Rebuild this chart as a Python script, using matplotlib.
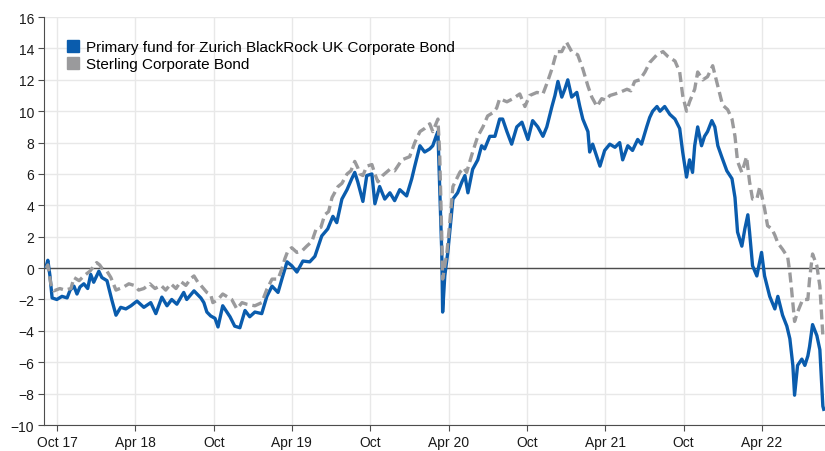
import matplotlib.pyplot as plt
import matplotlib.dates as mdates
from matplotlib.patches import Patch
import pandas as pd

plt.rcParams['font.family'] = ['Liberation Sans', 'DejaVu Sans']

# cumulative return (%)
fund_dates = [
    '2017-09-05', '2017-09-09', '2017-09-14', '2017-09-19', '2017-09-30', '2017-10-12', '2017-10-24', '2017-10-31',
    '2017-11-09', '2017-11-16', '2017-11-23', '2017-12-02', '2017-12-11', '2017-12-18', '2017-12-25', '2018-01-06',
    '2018-01-13', '2018-01-25', '2018-02-05', '2018-02-15', '2018-02-26', '2018-03-10', '2018-03-22', '2018-04-05',
    '2018-04-21', '2018-05-07', '2018-05-19', '2018-06-02', '2018-06-14', '2018-06-25', '2018-07-07', '2018-07-23',
    '2018-07-30', '2018-08-16', '2018-09-01', '2018-09-08', '2018-09-15', '2018-09-24', '2018-10-04', '2018-10-11',
    '2018-10-22', '2018-11-08', '2018-11-19', '2018-12-01', '2018-12-13', '2018-12-24', '2019-01-05', '2019-01-21',
    '2019-02-02', '2019-02-14', '2019-02-28', '2019-03-09', '2019-03-21', '2019-04-01', '2019-04-13', '2019-04-27',
    '2019-05-13', '2019-05-25', '2019-06-10', '2019-06-24', '2019-07-06', '2019-07-15', '2019-07-27', '2019-08-08',
    '2019-08-19', '2019-08-26', '2019-09-02', '2019-09-14', '2019-09-23', '2019-10-05', '2019-10-12', '2019-10-23',
    '2019-11-04', '2019-11-16', '2019-11-27', '2019-12-09', '2019-12-25', '2020-01-06', '2020-01-13', '2020-01-25',
    '2020-02-05', '2020-02-17', '2020-02-24', '2020-03-04', '2020-03-07', '2020-03-11', '2020-03-16', '2020-03-18',
    '2020-03-23', '2020-03-30', '2020-04-11', '2020-04-22', '2020-05-02', '2020-05-09', '2020-05-16', '2020-05-27',
    '2020-06-08', '2020-06-17', '2020-06-24', '2020-07-06', '2020-07-18', '2020-07-29', '2020-08-05', '2020-08-15',
    '2020-08-26', '2020-09-07', '2020-09-19', '2020-10-03', '2020-10-14', '2020-10-26', '2020-11-07', '2020-11-16',
    '2020-11-28', '2020-12-05', '2020-12-12', '2020-12-21', '2020-12-28', '2021-01-04', '2021-01-13', '2021-01-25',
    '2021-02-01', '2021-02-08', '2021-02-20', '2021-02-24', '2021-03-03', '2021-03-15', '2021-03-20', '2021-03-31',
    '2021-04-12', '2021-04-24', '2021-05-05', '2021-05-12', '2021-05-24', '2021-06-04', '2021-06-16', '2021-06-25',
    '2021-07-07', '2021-07-14', '2021-07-21', '2021-07-31', '2021-08-07', '2021-08-18', '2021-08-30', '2021-09-11',
    '2021-09-22', '2021-09-29', '2021-10-08', '2021-10-15', '2021-10-22', '2021-10-27', '2021-11-03', '2021-11-12',
    '2021-11-19', '2021-11-26', '2021-12-06', '2021-12-13', '2021-12-20', '2021-12-29', '2022-01-10', '2022-01-22',
    '2022-01-29', '2022-02-04', '2022-02-14', '2022-02-21', '2022-02-28', '2022-03-04', '2022-03-11', '2022-03-21',
    '2022-04-01', '2022-04-08', '2022-04-20', '2022-05-02', '2022-05-09', '2022-05-20', '2022-05-30', '2022-06-06',
    '2022-06-13', '2022-06-17', '2022-06-24', '2022-07-04', '2022-07-11', '2022-07-18', '2022-07-22', '2022-07-29',
    '2022-08-08', '2022-08-15', '2022-08-22', '2022-08-24',
]
fund_vals = [
    0.1, 0.5, -0.5, -1.9, -2.0, -1.8, -1.9, -1.4,
    -1.15, -1.65, -1.2, -1.0, -1.3, -0.4, -0.9, -0.2,
    -0.6, -0.8, -2.0, -3.0, -2.5, -2.6, -2.4, -2.1,
    -2.5, -2.2, -2.9, -1.85, -2.4, -2.0, -2.3, -1.55,
    -2.0, -1.45, -1.9, -2.2, -2.8, -3.05, -3.2, -3.75,
    -2.4, -3.1, -3.7, -3.8, -2.7, -3.1, -2.8, -2.9,
    -1.8, -1.15, -1.55, -0.7, 0.4, 0.15, -0.25, 0.45,
    0.4, 0.75, 2.05, 2.5, 3.3, 2.9, 4.4, 5.0,
    5.7, 6.1, 5.5, 4.25, 5.9, 6.0, 4.1, 5.2,
    4.4, 4.8, 4.3, 5.0, 4.6, 5.7, 6.5, 7.8,
    7.4, 7.6, 7.8, 8.5, 8.7, 5.2, 1.0, -2.8,
    -0.5, 1.0, 4.4, 4.8, 5.5, 5.9, 4.8, 6.3,
    6.9, 7.8, 7.6, 8.4, 8.4, 9.5, 9.5, 8.7,
    7.9, 9.0, 9.3, 8.2, 9.4, 9.0, 8.4, 9.0,
    10.3, 11.0, 11.9, 10.9, 11.4, 12.0, 10.9, 11.2,
    10.3, 9.5, 8.7, 7.4, 7.9, 6.9, 6.5, 7.5,
    7.9, 7.7, 8.0, 6.9, 7.8, 7.5, 8.2, 7.9,
    9.0, 9.6, 10.0, 10.3, 10.0, 10.3, 9.8, 9.5,
    8.9, 7.4, 5.8, 6.9, 6.1, 7.8, 9.0, 7.8,
    8.4, 8.7, 9.4, 9.0, 7.8, 7.1, 6.2, 5.7,
    4.5, 2.3, 1.4, 2.5, 3.4, 2.3, 0.15, -0.5,
    1.0, -0.5, -1.8, -2.6, -1.8, -3.0, -3.7, -4.5,
    -6.2, -8.1, -6.2, -5.8, -6.2, -5.6, -5.0, -3.6,
    -4.3, -5.2, -8.8, -9.0,
]

bench_dates = [
    '2017-09-05', '2017-09-09', '2017-09-16', '2017-09-23', '2017-10-07', '2017-10-19', '2017-11-02', '2017-11-09',
    '2017-11-21', '2017-12-02', '2017-12-16', '2018-01-01', '2018-01-08', '2018-01-13', '2018-01-25', '2018-02-03',
    '2018-02-15', '2018-03-05', '2018-03-17', '2018-03-29', '2018-04-09', '2018-04-21', '2018-05-05', '2018-05-17',
    '2018-05-31', '2018-06-11', '2018-06-23', '2018-07-05', '2018-07-16', '2018-07-28', '2018-08-09', '2018-08-16',
    '2018-08-25', '2018-09-01', '2018-09-15', '2018-09-24', '2018-09-29', '2018-10-11', '2018-10-22', '2018-10-31',
    '2018-11-12', '2018-11-24', '2018-12-06', '2018-12-17', '2019-01-05', '2019-01-21', '2019-02-02', '2019-02-14',
    '2019-02-28', '2019-03-09', '2019-03-16', '2019-03-23', '2019-04-01', '2019-04-13', '2019-04-25', '2019-05-06',
    '2019-05-18', '2019-05-28', '2019-06-08', '2019-06-17', '2019-06-26', '2019-07-04', '2019-07-18', '2019-07-27',
    '2019-08-08', '2019-08-17', '2019-08-26', '2019-09-02', '2019-09-07', '2019-09-14', '2019-09-23', '2019-10-05',
    '2019-10-12', '2019-10-19', '2019-10-30', '2019-11-16', '2019-11-27', '2019-12-14', '2019-12-23', '2020-01-01',
    '2020-01-13', '2020-01-25', '2020-02-05', '2020-02-17', '2020-02-24', '2020-03-07', '2020-03-11', '2020-03-16',
    '2020-03-18', '2020-03-28', '2020-04-04', '2020-04-11', '2020-04-20', '2020-04-27', '2020-05-06', '2020-05-13',
    '2020-05-27', '2020-06-08', '2020-06-20', '2020-07-01', '2020-07-13', '2020-07-22', '2020-07-29', '2020-08-15',
    '2020-08-29', '2020-09-14', '2020-09-26', '2020-10-07', '2020-10-24', '2020-11-07', '2020-11-18', '2020-11-28',
    '2020-12-09', '2020-12-21', '2021-01-01', '2021-01-13', '2021-01-27', '2021-02-08', '2021-02-20', '2021-03-01',
    '2021-03-13', '2021-03-24', '2021-04-03', '2021-04-12', '2021-04-24', '2021-05-05', '2021-05-22', '2021-05-31',
    '2021-06-09', '2021-06-21', '2021-07-03', '2021-07-14', '2021-07-31', '2021-08-14', '2021-08-25', '2021-09-11',
    '2021-09-22', '2021-09-29', '2021-10-08', '2021-10-15', '2021-10-27', '2021-11-03', '2021-11-15', '2021-11-26',
    '2021-12-08', '2021-12-20', '2021-12-31', '2022-01-12', '2022-01-22', '2022-01-29', '2022-02-04', '2022-02-14',
    '2022-02-25', '2022-03-04', '2022-03-11', '2022-03-21', '2022-03-28', '2022-04-08', '2022-04-15', '2022-04-25',
    '2022-05-02', '2022-05-09', '2022-05-20', '2022-06-01', '2022-06-06', '2022-06-10', '2022-06-17', '2022-06-24',
    '2022-07-06', '2022-07-18', '2022-07-22', '2022-07-29', '2022-08-08', '2022-08-15', '2022-08-22',
]
bench_vals = [
    0.0, 0.2, -1.0, -1.45, -1.3, -1.4, -1.3, -0.6,
    -0.8, -0.5, -0.2, 0.35, 0.2, 0.0, -0.2, -0.6,
    -1.4, -1.2, -1.0, -1.1, -1.4, -1.3, -1.0, -1.3,
    -1.1, -1.4, -1.0, -1.3, -0.85, -1.1, -0.65, -0.5,
    -0.9, -1.1, -1.55, -1.7, -2.2, -2.0, -1.65, -1.8,
    -2.0, -2.6, -2.2, -2.3, -2.4, -2.2, -1.35, -0.7,
    -0.7, -0.05, 0.6, 1.1, 1.3, 1.0, 1.1, 1.4,
    1.7, 2.5, 2.6, 3.4, 3.6, 4.5, 5.2, 5.4,
    6.0, 6.2, 6.8, 6.4, 6.0, 5.9, 6.5, 6.6,
    6.0, 5.5, 5.9, 6.3, 6.2, 6.9, 7.0, 7.1,
    8.0, 8.7, 8.9, 9.2, 8.7, 9.5, 7.4, 2.0,
    -0.7, 1.0, 3.0, 5.2, 5.7, 6.1, 6.4, 6.1,
    7.4, 8.4, 9.0, 9.7, 9.9, 10.2, 10.8, 10.6,
    10.8, 11.1, 10.3, 11.0, 11.2, 11.1, 11.9, 12.7,
    13.8, 13.8, 14.4, 13.8, 13.6, 12.7, 11.6, 10.9,
    10.3, 10.8, 10.7, 11.0, 11.1, 11.2, 11.4, 11.3,
    11.9, 12.0, 12.5, 13.1, 13.6, 13.8, 13.5, 13.2,
    12.5, 11.0, 10.0, 10.6, 11.4, 12.5, 12.0, 12.2,
    12.9, 11.6, 10.4, 10.1, 9.5, 8.4, 6.8, 6.1,
    7.1, 5.5, 4.4, 4.4, 5.2, 3.8, 2.7, 2.5,
    2.1, 1.6, 1.2, 0.7, -0.3, -1.35, -3.4, -2.8,
    -2.0, -2.0, -0.7, 0.9, 0.15, -1.15, -4.3,
]

fund_label = 'Primary fund for Zurich BlackRock UK Corporate Bond'
bench_label = 'Sterling Corporate Bond'
tick_dates = ['2017-10-01', '2018-04-01', '2018-10-01', '2019-04-01', '2019-10-01',
              '2020-04-01', '2020-10-01', '2021-04-01', '2021-10-01', '2022-04-01']
tick_labels = ['Oct 17', 'Apr 18', 'Oct', 'Apr 19', 'Oct', 'Apr 20', 'Oct', 'Apr 21', 'Oct', 'Apr 22']

blue = '#0a5cad'
grey = '#9a9a9c'

fig = plt.figure(figsize=(8.25, 4.52), dpi=100)
ax = fig.add_axes([0.0533, 0.0575, 0.9467, 0.9025])

ax.plot(pd.to_datetime(fund_dates), fund_vals, color=blue, lw=2.4, zorder=3)
ax.plot(pd.to_datetime(bench_dates), bench_vals, color=grey, lw=2.4,
        linestyle=(0, (3, 1.5)), zorder=4)
ax.axhline(0, color='#4d4d4d', lw=1, zorder=2)

ax.set_xlim(pd.Timestamp('2017-08-31'), pd.Timestamp('2022-08-27'))
ax.set_ylim(-10, 16)
ax.set_yticks(range(-10, 17, 2))
ax.set_xticks(pd.to_datetime(tick_dates))
ax.set_xticklabels(tick_labels)

ax.grid(True, color='#e8e8e8', lw=1, zorder=0)
ax.set_axisbelow(True)
ax.spines['top'].set_visible(False) #Less ink
ax.spines['right'].set_visible(False)
ax.spines['left'].set_color('#4d4d4d')
ax.spines['bottom'].set_color('#4d4d4d')
ax.tick_params(axis='both', length=4, color='#4d4d4d', labelsize=10, labelcolor='#1a1a1a', pad=3)

handles = [Patch(facecolor=blue, edgecolor=blue), Patch(facecolor=grey, edgecolor=grey)]
ax.legend(handles, [fund_label, bench_label], loc='upper left', bbox_to_anchor=(0.022, 0.958),
          frameon=False, fontsize=11, handlelength=0.75, handleheight=0.75,
          handletextpad=0.45, labelspacing=0.2, borderaxespad=0)

plt.savefig(fname='out.png', format='png', dpi=100)
